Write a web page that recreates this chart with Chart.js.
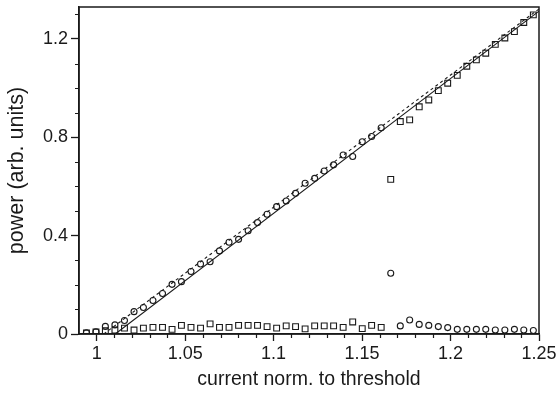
<!DOCTYPE html>
<html>
<head>
<meta charset="utf-8">
<script src="https://cdn.jsdelivr.net/npm/chart.js@4/dist/chart.umd.min.js"></script>
<style>
  html, body { margin: 0; padding: 0; background: #fff; }
  #wrap { width: 559px; height: 393px; }
</style>
</head>
<body>
<div id="wrap"><canvas id="c" width="559" height="393"></canvas></div>
<script>
// ---- data ----
const currentNorm = [0.9942, 0.9996, 1.0049, 1.0103, 1.0157, 1.0211, 1.0264, 1.0318, 1.0372, 1.0426,
  1.0479, 1.0533, 1.0587, 1.0641, 1.0694, 1.0748, 1.0802, 1.0856, 1.0909, 1.0963,
  1.1017, 1.1071, 1.1124, 1.1178, 1.1232, 1.1286, 1.1339, 1.1393, 1.1447, 1.1501,
  1.1554, 1.1608, 1.1662, 1.1716, 1.1769, 1.1823, 1.1877, 1.1931, 1.1984, 1.2038,
  1.2092, 1.2146, 1.2199, 1.2253, 1.2307, 1.2361, 1.2414, 1.2468];
const circlePower = [0.005, 0.009, 0.031, 0.037, 0.055, 0.091, 0.108, 0.136, 0.165, 0.202,
  0.213, 0.254, 0.285, 0.294, 0.338, 0.373, 0.385, 0.420, 0.453, 0.487,
  0.518, 0.541, 0.572, 0.613, 0.633, 0.663, 0.688, 0.728, 0.722, 0.782,
  0.803, 0.839, 0.247, 0.033, 0.057, 0.039, 0.035, 0.030, 0.026, 0.019,
  0.019, 0.019, 0.019, 0.016, 0.016, 0.019, 0.016, 0.014];
const squarePower = [0.004, 0.008, 0.013, 0.016, 0.024, 0.016, 0.024, 0.027, 0.027, 0.019,
  0.035, 0.027, 0.024, 0.041, 0.027, 0.027, 0.035, 0.035, 0.035, 0.030,
  0.024, 0.033, 0.030, 0.021, 0.033, 0.033, 0.033, 0.027, 0.049, 0.022,
  0.035, 0.027, 0.629, 0.864, 0.871, 0.924, 0.952, 0.990, 1.020, 1.052,
  1.089, 1.115, 1.142, 1.178, 1.204, 1.230, 1.267, 1.298];
const solidFitX = [1.0105, 1.25];
const solidFitY = [0, 1.313];
const dashedFitX = [1.004, 1.25];
const dashedFitY = [0, 1.322];
const xMajorTicks = [1, 1.05, 1.1, 1.15, 1.2, 1.25];
const xMinorTicks = [1.01, 1.02, 1.03, 1.04, 1.06, 1.07, 1.08, 1.09, 1.11, 1.12, 1.13, 1.14,
  1.16, 1.17, 1.18, 1.19, 1.21, 1.22, 1.23, 1.24];
const yMajorTicks = [0, 0.4, 0.8, 1.2];
const yMinorTicks = [0.1, 0.2, 0.3, 0.5, 0.6, 0.7, 0.9, 1.0, 1.1, 1.3];
const xTitle = 'current norm. to threshold';
const yTitle = 'power (arb. units)';

const INK = '#1a1a1a';
const pts = (xs, ys) => xs.map((x, i) => ({ x, y: ys[i] }));

const framePlugin = {
  id: 'frameAndMinor',
  afterDraw(chart) {
    const { ctx, chartArea: a, scales: { x, y } } = chart;
    ctx.save();
    ctx.strokeStyle = INK;
    ctx.lineWidth = 1.5;
    ctx.strokeRect(a.left, a.top, a.right - a.left, a.bottom - a.top);
    ctx.lineWidth = 1.2;
    ctx.beginPath();
    for (const v of xMinorTicks) {
      const px = Math.round(x.getPixelForValue(v)) + 0.5;
      ctx.moveTo(px, a.bottom); ctx.lineTo(px, a.bottom + 4);
    }
    for (const v of yMinorTicks) {
      const py = Math.round(y.getPixelForValue(v)) + 0.5;
      ctx.moveTo(a.left - 4, py); ctx.lineTo(a.left, py);
    }
    ctx.stroke();
    ctx.restore();
  }
};

new Chart(document.getElementById('c'), {
  type: 'scatter',
  data: {
    datasets: [
      { label: 'fit', data: pts(solidFitX, solidFitY), showLine: true, borderColor: INK,
        borderWidth: 1.1, pointRadius: 0, fill: false },
      { label: 'fit2', data: pts(dashedFitX, dashedFitY), showLine: true, borderColor: INK,
        borderWidth: 1.1, borderDash: [3, 3], pointRadius: 0, fill: false },
      { label: 'circles', data: pts(currentNorm, circlePower), pointStyle: 'circle',
        pointRadius: 3, borderColor: INK, borderWidth: 1.1, backgroundColor: 'rgba(0,0,0,0)' },
      { label: 'squares', data: pts(currentNorm, squarePower), pointStyle: 'rect',
        pointRadius: 4.1, borderColor: INK, borderWidth: 1.1, backgroundColor: 'rgba(0,0,0,0)' }
    ]
  },
  options: {
    responsive: false,
    animation: false,
    events: [],
    layout: { padding: { left: 0, right: 20, top: 7, bottom: 0 } },
    plugins: { legend: { display: false }, tooltip: { enabled: false } },
    scales: {
      x: {
        type: 'linear', min: 0.99, max: 1.25,
        afterBuildTicks: (s) => { s.ticks = xMajorTicks.map(v => ({ value: v })); },
        afterFit: (s) => { s.height = 59; s.paddingLeft = 0; s.paddingRight = 0; },
        ticks: { color: INK, padding: 2, font: { family: 'Liberation Sans', size: 18 },
          callback: (v) => String(+Number(v).toFixed(2)), maxRotation: 0, autoSkip: false },
        grid: { drawOnChartArea: false, drawTicks: true, tickLength: 7, tickColor: INK, tickWidth: 1.3 },
        border: { color: INK, width: 1.5 },
        title: { display: true, text: xTitle, color: INK,
          font: { family: 'Liberation Sans', size: 19.5 }, padding: { top: 0, bottom: 2 } }
      },
      y: {
        type: 'linear', min: 0, max: 1.33,
        afterBuildTicks: (s) => { s.ticks = yMajorTicks.map(v => ({ value: v })); },
        afterFit: (s) => { s.width = 79; s.paddingTop = 0; s.paddingBottom = 0; },
        ticks: { color: INK, padding: 3, font: { family: 'Liberation Sans', size: 18 },
          callback: (v) => String(+Number(v).toFixed(2)), autoSkip: false },
        grid: { drawOnChartArea: false, drawTicks: true, tickLength: 8, tickColor: INK, tickWidth: 1.3 },
        border: { color: INK, width: 1.5 },
        title: { display: true, text: yTitle, color: INK,
          font: { family: 'Liberation Sans', size: 21.5 }, padding: { top: 4, bottom: 0 } }
      }
    }
  },
  plugins: [framePlugin]
});
</script>
</body>
</html>
